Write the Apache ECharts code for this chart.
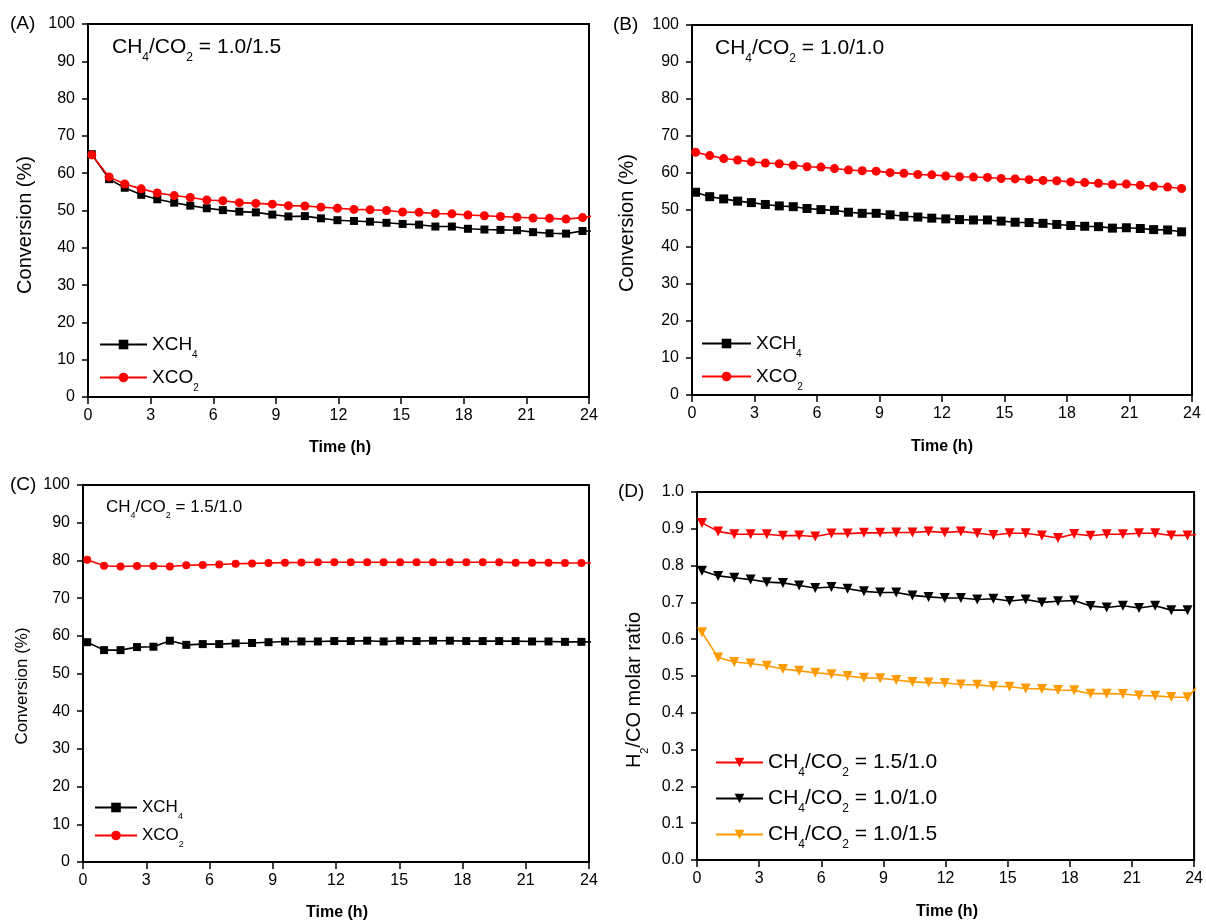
<!DOCTYPE html>
<html>
<head>
<meta charset="utf-8">
<script src="https://cdn.jsdelivr.net/npm/echarts@6/dist/echarts.min.js"></script>
<style>html,body{margin:0;padding:0;background:#fff;}#c{width:1206px;height:922px;}</style>
</head>
<body>
<div id="c"></div>
<script>
// ---------- DATA ----------
// Panel A (CH4/CO2 = 1.0/1.5)
const timeA = [0.18,1.01,1.76,2.55,3.32,4.13,4.90,5.69,6.46,7.25,8.04,8.83,9.60,10.39,11.16,11.95,12.74,13.51,14.30,15.07,15.86,16.64,17.43,18.20,18.99,19.76,20.55,21.32,22.11,22.90,23.69,24.47];
const xch4A = [65.1,58.4,56.1,54.2,53.0,52.1,51.3,50.6,50.1,49.7,49.5,48.9,48.4,48.5,47.9,47.4,47.2,47.0,46.7,46.4,46.2,45.7,45.7,45.1,44.9,44.8,44.7,44.2,43.9,43.8,44.5,44.5];
const xco2A = [64.9,59.0,57.1,55.8,54.7,54.0,53.5,52.8,52.6,52.1,51.9,51.7,51.3,51.2,50.9,50.6,50.3,50.2,50.0,49.6,49.5,49.2,49.1,48.8,48.6,48.4,48.2,48.0,47.9,47.7,48.1,48.7];
// Panel B (CH4/CO2 = 1.0/1.0)
const timeB = [0.17,0.85,1.52,2.19,2.85,3.52,4.19,4.86,5.52,6.19,6.84,7.51,8.17,8.84,9.51,10.17,10.84,11.51,12.18,12.84,13.51,14.18,14.84,15.51,16.18,16.85,17.51,18.18,18.85,19.51,20.18,20.85,21.52,22.16,22.83,23.50];
const xch4B = [54.8,53.6,53.0,52.4,52.0,51.5,51.1,50.9,50.4,50.1,49.9,49.4,49.1,49.1,48.7,48.3,48.1,47.8,47.6,47.4,47.3,47.3,47.0,46.7,46.6,46.4,46.1,45.8,45.6,45.5,45.1,45.2,45.0,44.7,44.6,44.1];
const xco2B = [65.6,64.7,63.9,63.5,63.0,62.7,62.5,62.1,61.7,61.6,61.2,60.8,60.6,60.5,60.1,59.9,59.6,59.5,59.2,59.0,58.9,58.8,58.5,58.4,58.2,58.0,57.9,57.6,57.4,57.2,56.9,57.0,56.7,56.4,56.2,55.8];
// Panel C (CH4/CO2 = 1.5/1.0)
const timeC = [0.20,1.00,1.78,2.56,3.34,4.12,4.90,5.68,6.46,7.24,8.02,8.80,9.58,10.36,11.14,11.92,12.70,13.48,14.26,15.04,15.82,16.60,17.40,18.18,18.96,19.74,20.52,21.30,22.08,22.86,23.64,24.42];
const xch4C = [58.3,56.2,56.2,57.0,57.1,58.7,57.6,57.8,57.8,58.0,58.1,58.3,58.5,58.5,58.5,58.6,58.6,58.7,58.5,58.7,58.6,58.7,58.7,58.6,58.6,58.6,58.6,58.5,58.5,58.4,58.4,58.4];
const xco2C = [80.2,78.6,78.4,78.5,78.5,78.4,78.7,78.8,78.9,79.1,79.2,79.3,79.4,79.45,79.5,79.5,79.5,79.5,79.5,79.5,79.5,79.5,79.5,79.5,79.5,79.5,79.4,79.4,79.4,79.3,79.3,79.3];
// Panel D (H2/CO molar ratio)
const timeD = [0.24,1.02,1.80,2.59,3.37,4.15,4.93,5.71,6.49,7.27,8.06,8.84,9.62,10.40,11.18,11.96,12.74,13.53,14.31,15.09,15.87,16.65,17.43,18.21,19.00,19.78,20.56,21.34,22.12,22.90,23.68,24.46];
const ratio15 = [0.916,0.893,0.885,0.885,0.885,0.881,0.882,0.879,0.887,0.887,0.889,0.889,0.890,0.890,0.893,0.890,0.893,0.888,0.883,0.888,0.888,0.882,0.875,0.886,0.881,0.885,0.885,0.888,0.888,0.882,0.882,0.887];
const ratio10 = [0.786,0.772,0.767,0.762,0.755,0.753,0.746,0.739,0.742,0.737,0.730,0.727,0.727,0.719,0.715,0.712,0.712,0.708,0.710,0.704,0.708,0.700,0.703,0.705,0.690,0.686,0.691,0.685,0.691,0.679,0.679];
const ratio1015 = [0.619,0.550,0.538,0.534,0.528,0.519,0.514,0.509,0.505,0.500,0.495,0.494,0.489,0.484,0.482,0.481,0.477,0.476,0.472,0.471,0.466,0.465,0.462,0.461,0.452,0.452,0.451,0.447,0.446,0.443,0.442,0.490];
// Tick settings
const timeTicks = {min:0, max:24, interval:3};
const convTicks = {min:0, max:100, interval:10};
const ratioTicks = {min:0, max:1, interval:0.1};

// ---------- CHART ----------
const FONT = '"Liberation Sans", Arial, sans-serif';
function zip(t, v){ return v.map((y,i)=>[t[i], y]); }
function rich(size, extra){
  const s = Math.round(size*0.55);
  return {
    m:{fontSize:size, fontFamily:FONT, color:'#000', lineHeight:size+extra, verticalAlign:'middle'},
    s:{fontSize:s, fontFamily:FONT, color:'#000', lineHeight:s, verticalAlign:'bottom'}
  };
}
const grids = [
  {left:88, top:24, width:501, height:373},
  {left:692, top:25, width:500, height:370},
  {left:83, top:485, width:506, height:377},
  {left:697, top:492, width:498, height:368}
].map(g=>Object.assign({show:true, borderColor:'#000', borderWidth:2, backgroundColor:'transparent', containLabel:false}, g));

function xAx(gi){
  return Object.assign({type:'value', gridIndex:gi,
    axisLine:{show:true, onZero:false, lineStyle:{color:'#000', width:2}},
    axisTick:{show:true, inside:false, length:7, lineStyle:{color:'#000', width:1.5}},
    axisLabel:{fontSize:16, color:'#000', fontFamily:FONT, margin:11},
    splitLine:{show:false}}, timeTicks);
}
function yAx(gi, ticks, dec){
  return Object.assign({type:'value', gridIndex:gi,
    axisLine:{show:true, onZero:false, lineStyle:{color:'#000', width:2}},
    axisTick:{show:true, inside:false, length:6, lineStyle:{color:'#000', width:1.5}},
    axisLabel:{fontSize:16, color:'#000', fontFamily:FONT, margin:13,
      formatter: v => dec ? v.toFixed(dec) : String(v)},
    splitLine:{show:false}}, ticks);
}
function ser(name, gi, t, v, color, symbol, size, rot){
  return {name:name, type:'line', xAxisIndex:gi, yAxisIndex:gi, data:zip(t,v),
    symbol:symbol, symbolSize:size, symbolRotate:rot||0, showSymbol:true, clip:true,
    lineStyle:{color:color, width:1.6}, itemStyle:{color:color}, animation:false};
}
const LEG = {
  'A_CH4':'{m|XCH}{s|4}','A_CO2':'{m|XCO}{s|2}',
  'B_CH4':'{m|XCH}{s|4}','B_CO2':'{m|XCO}{s|2}',
  'C_CH4':'{m|XCH}{s|4}','C_CO2':'{m|XCO}{s|2}',
  'D_15':'{m|CH}{s|4}{m|/CO}{s|2}{m| = 1.5/1.0}',
  'D_10':'{m|CH}{s|4}{m|/CO}{s|2}{m| = 1.0/1.0}',
  'D_1015':'{m|CH}{s|4}{m|/CO}{s|2}{m| = 1.0/1.5}'
};
function leg(data, left, top, size, extra, gap, iw){
  return {data:data, orient:'vertical', left:left, top:top, padding:0, itemGap:gap,
    itemWidth:iw, itemHeight:12,
    formatter: n => LEG[n], textStyle:{rich:rich(size, extra)}, selectedMode:false};
}
function txt(x, y, str, size, extra){
  return {type:'text', x:x, y:y, style:{text:str, rich:rich(size, extra),
    fontFamily:FONT, fontSize:size, fill:'#000', verticalAlign:'middle'}};
}
function plain(x, y, str, size, weight, align, rot){
  return {type:'text', x:x, y:y, rotation:rot||0, style:{text:str, fontFamily:FONT, fontSize:size,
    fontWeight:weight||'normal', fill:'#000', align:align||'left', verticalAlign:'middle'}};
}

const option = {
  backgroundColor:'#fff',
  animation:false,
  grid:grids,
  xAxis:[xAx(0), xAx(1), xAx(2), xAx(3)],
  yAxis:[yAx(0, convTicks), yAx(1, convTicks), yAx(2, convTicks), yAx(3, ratioTicks, 1)],
  legend:[
    leg(['A_CH4','A_CO2'], 99, 335, 19, 12, 8, 47),
    leg(['B_CH4','B_CO2'], 701, 334, 19, 12, 8, 49),
    leg(['C_CH4','C_CO2'], 94, 799, 17, 10, 6, 42),
    leg(['D_15','D_10','D_1015'], 715, 752, 21, 12, 9, 47)
  ],
  series:[
    ser('A_CH4',0,timeA,xch4A,'#000','rect',8),
    ser('A_CO2',0,timeA,xco2A,'#ff0000','circle',9),
    ser('B_CH4',1,timeB,xch4B,'#000','rect',9),
    ser('B_CO2',1,timeB,xco2B,'#ff0000','circle',9),
    ser('C_CH4',2,timeC,xch4C,'#000','rect',8),
    ser('C_CO2',2,timeC,xco2C,'#ff0000','circle',8),
    ser('D_15',3,timeD,ratio15,'#ff0000','triangle',10,180),
    ser('D_10',3,timeD,ratio10,'#000','triangle',10,180),
    ser('D_1015',3,timeD,ratio1015,'#ff9a00','triangle',10,180)
  ],
  graphic:[
    plain(10, 24, '(A)', 19),
    plain(613, 25, '(B)', 19),
    plain(10, 485, '(C)', 19),
    plain(618, 492, '(D)', 19),
    txt(112, 47, '{m|CH}{s|4}{m|/CO}{s|2}{m| = 1.0/1.5}', 21, 12),
    txt(715, 48, '{m|CH}{s|4}{m|/CO}{s|2}{m| = 1.0/1.0}', 21, 12),
    txt(106, 507, '{m|CH}{s|4}{m|/CO}{s|2}{m| = 1.5/1.0}', 17, 10),
    plain(340, 448, 'Time (h)', 16, 'bold', 'center'),
    plain(942, 447, 'Time (h)', 16, 'bold', 'center'),
    plain(337, 913, 'Time (h)', 16, 'bold', 'center'),
    plain(947, 912, 'Time (h)', 16, 'bold', 'center'),
    plain(25, 225, 'Conversion (%)', 20, 'normal', 'center', Math.PI/2),
    plain(627, 223, 'Conversion (%)', 20, 'normal', 'center', Math.PI/2),
    plain(22, 686, 'Conversion (%)', 17, 'normal', 'center', Math.PI/2),
    {type:'text', x:634, y:690, rotation:Math.PI/2, style:{text:'{m|H}{s|2}{m|/CO molar ratio}', rich:rich(20, 12),
      fontFamily:FONT, fontSize:20, fill:'#000', align:'center', verticalAlign:'middle'}}
  ]
};
const chart = echarts.init(document.getElementById('c'), null, {renderer:'canvas'});
chart.setOption(option);
</script>
</body>
</html>
